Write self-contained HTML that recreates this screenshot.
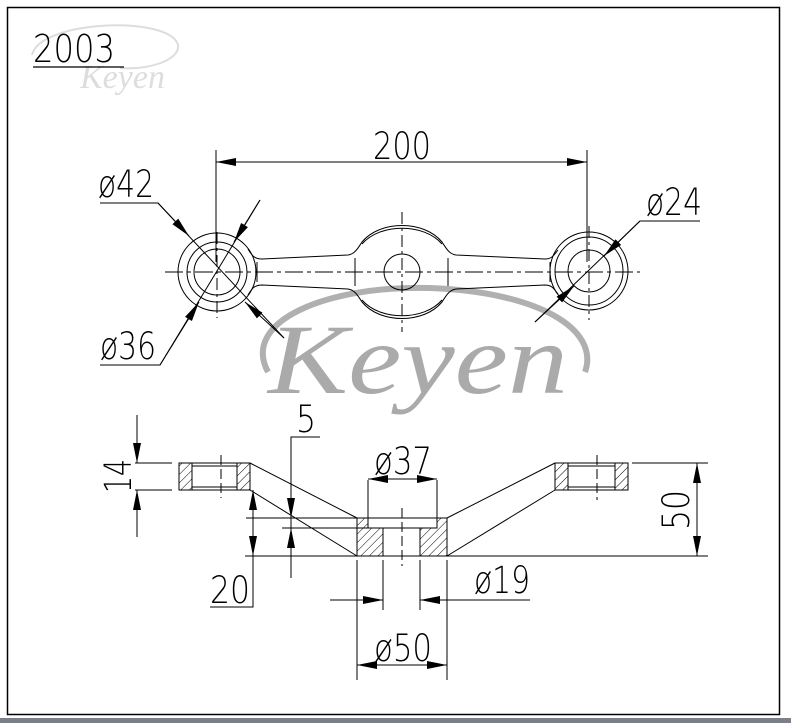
<!DOCTYPE html>
<html><head><meta charset="utf-8"><style>
html,body{margin:0;padding:0;background:#fff;}
svg{display:block;}
.t{font-family:"DejaVu Sans ExtraLight","DejaVu Sans","Liberation Sans",sans-serif;font-weight:200;}
</style></head><body>
<svg width="791" height="723" viewBox="0 0 791 723" xmlns="http://www.w3.org/2000/svg">
<defs>
<marker id="a" viewBox="0 0 20 8" refX="20" refY="4" markerWidth="20" markerHeight="8" markerUnits="userSpaceOnUse" orient="auto"><path d="M0,0 L20,4 L0,8 z" fill="#000"/></marker>
<pattern id="h" width="6" height="6" patternUnits="userSpaceOnUse" patternTransform="rotate(45)"><line x1="0" y1="0" x2="0" y2="6" stroke="#000" stroke-width="1"/></pattern>
</defs>
<rect x="0" y="0" width="791" height="723" fill="#fff"/>
<rect x="0" y="718" width="791" height="5" fill="#7a7f88"/>
<rect x="7.5" y="7.5" width="772" height="707" fill="none" stroke="#000" stroke-width="1.5"/>

<g fill="none" stroke="#ddd" stroke-width="2"><path d="M32,55 C40,20 170,15 178,45 C180,60 150,70 120,68"/></g>
<text x="80" y="88" style="font-family:'Liberation Serif',serif;font-style:italic" font-size="34" fill="#ddd">Keyen</text>
<text class="t" x="33" y="62" font-size="38" fill="#000" textLength="82" lengthAdjust="spacingAndGlyphs">2003</text>
<line x1="33" y1="67" x2="124" y2="67" stroke="#000" stroke-width="1.2"/>

<path d="M268,372 C240,320 330,285 430,288 C540,292 600,330 585,372" fill="none" stroke="#b0b0b0" stroke-width="6"/>
<text x="268" y="393" style="font-family:'Liberation Serif',serif;font-style:italic" font-size="100" fill="#aaa" textLength="300" lengthAdjust="spacingAndGlyphs">Keyen</text>

<g stroke="#000" fill="none" stroke-width="1">
<line x1="216" y1="150" x2="216" y2="262"/>
<line x1="587" y1="150" x2="587" y2="262"/>
<line x1="400" y1="162" x2="216" y2="162" marker-end="url(#a)"/>
<line x1="400" y1="162" x2="587" y2="162" marker-end="url(#a)"/>
<line x1="165" y1="272" x2="640" y2="272" stroke-dasharray="18,4,4,4"/>
<line x1="217" y1="232" x2="217" y2="318" stroke-dasharray="12,4,3,4"/>
<line x1="402" y1="212" x2="402" y2="332" stroke-dasharray="12,4,3,4"/>
<line x1="589" y1="226" x2="589" y2="320" stroke-dasharray="12,4,3,4"/>
<circle cx="217" cy="272" r="39"/>
<circle cx="217" cy="272" r="30"/>
<circle cx="217" cy="272" r="23"/>
<circle cx="589" cy="271" r="39"/>
<circle cx="589" cy="271" r="34"/>
<circle cx="589" cy="271" r="21"/>
<circle cx="402" cy="272" r="18"/>
<path d="M248,249 C252,256 255,259 262,259 L348,255 C355,254 358,248 362,242 C380,220 424,220 442,242 C446,248 449,254 456,255 L545,259 C552,259 554,255 558,250"/>
<path d="M362,244 C380,223 424,223 442,244" />
<path d="M248,295 C252,288 255,285 262,285 L348,289 C355,290 358,296 362,302 C380,324 424,324 442,302 C446,296 449,290 456,289 L545,285 C552,285 554,289 558,294"/>
<path d="M362,300 C380,321 424,321 442,300" />
<line x1="257" y1="262" x2="257" y2="282"/>
<line x1="355" y1="258" x2="355" y2="286"/>
<line x1="448" y1="258" x2="448" y2="286"/>
<line x1="550" y1="262" x2="550" y2="282"/>
<polyline points="100,203 158,203 284,338"/>
<line x1="158" y1="203" x2="189" y2="236" marker-end="url(#a)"/>
<line x1="284" y1="338" x2="245" y2="302" marker-end="url(#a)"/>
<polyline points="260,200 160,365 100,365"/>
<line x1="260" y1="200" x2="234" y2="242" marker-end="url(#a)"/>
<line x1="160" y1="365" x2="199" y2="302" marker-end="url(#a)"/>
<polyline points="700,221 640,221 535,322"/>
<line x1="640" y1="221" x2="604" y2="256" marker-end="url(#a)"/>
<line x1="535" y1="322" x2="574" y2="286" marker-end="url(#a)"/>
</g>
<g class="t" font-size="37" fill="#000" stroke="none">
<text x="373" y="159" textLength="58" lengthAdjust="spacingAndGlyphs">200</text>
<text x="98" y="197" textLength="56" lengthAdjust="spacingAndGlyphs">ø42</text>
<text x="100" y="359" textLength="56" lengthAdjust="spacingAndGlyphs">ø36</text>
<text x="646" y="215" textLength="56" lengthAdjust="spacingAndGlyphs">ø24</text>
</g>

<g stroke="#000" fill="none" stroke-width="1">
<rect x="179" y="463" width="13" height="27" fill="url(#h)"/>
<rect x="237" y="463" width="13" height="27" fill="url(#h)"/>
<rect x="179" y="463" width="71" height="27"/>
<line x1="192" y1="466" x2="237" y2="466"/><line x1="192" y1="487" x2="237" y2="487"/>
<line x1="221" y1="455" x2="221" y2="498" stroke-dasharray="10,4"/>
<rect x="555" y="463" width="13" height="27" fill="url(#h)"/>
<rect x="615" y="463" width="13" height="27" fill="url(#h)"/>
<rect x="555" y="463" width="73" height="27"/>
<line x1="568" y1="466" x2="615" y2="466"/><line x1="568" y1="487" x2="615" y2="487"/>
<line x1="597" y1="455" x2="597" y2="500" stroke-dasharray="10,4"/>
<line x1="250" y1="463" x2="357" y2="518"/>
<line x1="250" y1="490" x2="357" y2="556"/>
<line x1="555" y1="463" x2="447" y2="518"/>
<line x1="555" y1="490" x2="447" y2="556"/>
<rect x="357" y="518" width="26" height="38" fill="url(#h)"/>
<rect x="420" y="518" width="27" height="38" fill="url(#h)"/>
<rect x="357" y="518" width="90" height="38"/>
<rect x="368" y="518" width="69" height="10" fill="#fff"/>
<line x1="402" y1="508" x2="402" y2="566" stroke-dasharray="10,4"/>
<line x1="245" y1="556" x2="708" y2="556"/>
<line x1="632" y1="463" x2="708" y2="463"/>
<line x1="697" y1="510" x2="697" y2="463" marker-end="url(#a)"/>
<line x1="697" y1="510" x2="697" y2="556" marker-end="url(#a)"/>
<line x1="135" y1="463" x2="172" y2="463"/><line x1="135" y1="490" x2="172" y2="490"/>
<line x1="137" y1="415" x2="137" y2="463" marker-end="url(#a)"/>
<line x1="137" y1="537" x2="137" y2="490" marker-end="url(#a)"/>
<line x1="253" y1="523" x2="253" y2="490" marker-end="url(#a)"/>
<line x1="253" y1="523" x2="253" y2="556" marker-end="url(#a)"/>
<polyline points="253,556 253,607 210,607"/>
<line x1="246" y1="518" x2="357" y2="518"/>
<line x1="282" y1="528" x2="368" y2="528"/>
<polyline points="320,437 291,437 291,528"/>
<line x1="291" y1="500" x2="291" y2="518" marker-end="url(#a)"/>
<line x1="291" y1="578" x2="291" y2="528" marker-end="url(#a)"/>
<line x1="368" y1="480" x2="368" y2="528"/><line x1="437" y1="480" x2="437" y2="528"/>
<line x1="402" y1="479" x2="368" y2="479" marker-end="url(#a)"/>
<line x1="402" y1="479" x2="437" y2="479" marker-end="url(#a)"/>
<line x1="357" y1="560" x2="357" y2="680"/><line x1="447" y1="560" x2="447" y2="680"/>
<line x1="383" y1="560" x2="383" y2="610"/><line x1="420" y1="560" x2="420" y2="610"/>
<line x1="330" y1="600" x2="383" y2="600" marker-end="url(#a)"/>
<line x1="530" y1="600" x2="420" y2="600" marker-end="url(#a)"/>
<line x1="402" y1="665" x2="357" y2="665" marker-end="url(#a)"/>
<line x1="402" y1="665" x2="447" y2="665" marker-end="url(#a)"/>
</g>
<g class="t" font-size="37" fill="#000">
<text x="374" y="474" textLength="58" lengthAdjust="spacingAndGlyphs">ø37</text>
<text x="474" y="593" textLength="56" lengthAdjust="spacingAndGlyphs">ø19</text>
<text x="374" y="661" textLength="58" lengthAdjust="spacingAndGlyphs">ø50</text>
<text x="296" y="432" textLength="20" lengthAdjust="spacingAndGlyphs">5</text>
<text x="210" y="603" textLength="40" lengthAdjust="spacingAndGlyphs">20</text>
<text transform="translate(131,476) rotate(-90)" text-anchor="middle" textLength="34" lengthAdjust="spacingAndGlyphs">14</text>
<text transform="translate(689,510) rotate(-90)" text-anchor="middle" textLength="40" lengthAdjust="spacingAndGlyphs">50</text>
</g>
</svg>
</body></html>
